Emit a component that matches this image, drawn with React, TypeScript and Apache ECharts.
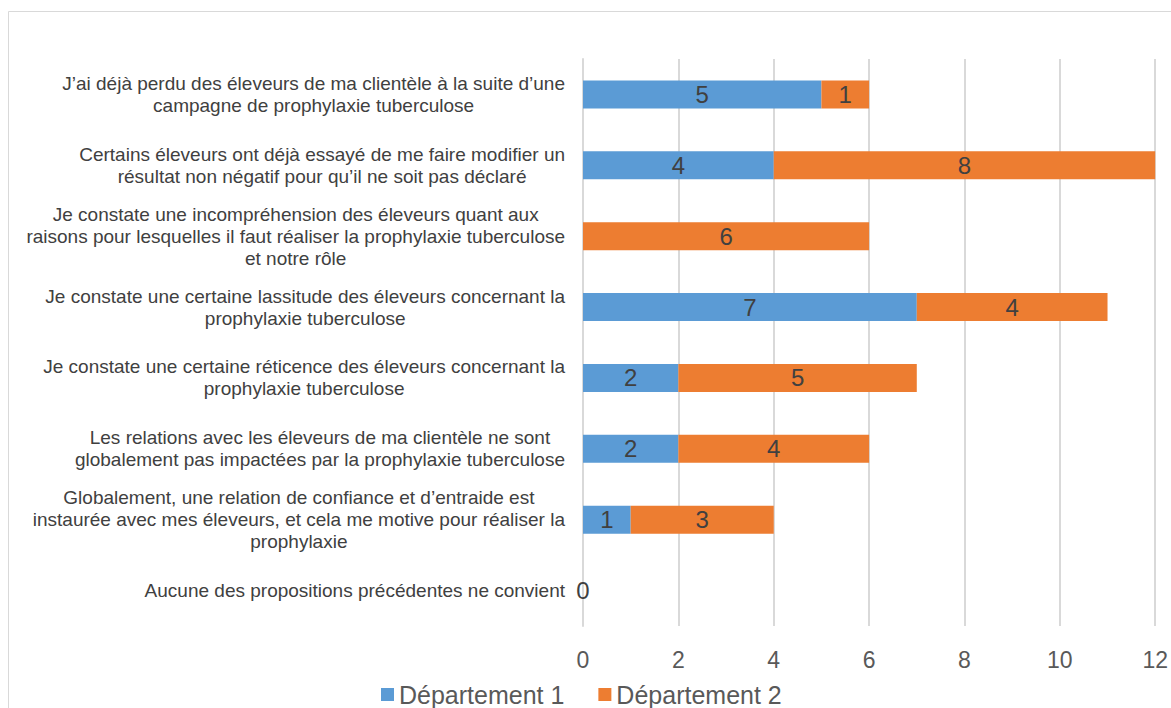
import React, { useEffect, useRef } from "react";
import * as echarts from "echarts";

const categories = [
  "J’ai déjà perdu des éleveurs de ma clientèle à la suite d’une\ncampagne de prophylaxie tuberculose",
  "Certains éleveurs ont déjà essayé de me faire modifier un\nrésultat non négatif pour qu’il ne soit pas déclaré",
  "Je constate une incompréhension des éleveurs quant aux\nraisons pour lesquelles il faut réaliser la prophylaxie tuberculose\net notre rôle",
  "Je constate une certaine lassitude des éleveurs concernant la\nprophylaxie tuberculose",
  "Je constate une certaine réticence des éleveurs concernant la\nprophylaxie tuberculose",
  "Les relations avec les éleveurs de ma clientèle ne sont\nglobalement pas impactées par la prophylaxie tuberculose",
  "Globalement, une relation de confiance et d’entraide est\ninstaurée avec mes éleveurs, et cela me motive pour réaliser la\nprophylaxie",
  "Aucune des propositions précédentes ne convient",
];
const dept1: (number | null)[] = [5, 4, null, 7, 2, 2, 1, 0];
const dept2: (number | null)[] = [1, 8, 6, 4, 5, 4, 3, null];
const seriesNames = ["Département 1", "Département 2"];
const xTicks = { min: 0, max: 12, interval: 2 };

export default function App() {
  const ref = useRef<HTMLDivElement>(null);
  useEffect(() => {
    document.body.style.margin = "0";
    const chart = echarts.init(ref.current!, null, { renderer: "svg" });
    const font = "'Liberation Sans', Arial, sans-serif";
    const labelStyle = {
      show: true,
      position: "inside",
      color: "#404040",
      fontSize: 24,
      fontFamily: font,
      formatter: (p: any) => (p.value === null || p.value === undefined ? "" : String(p.value)),
    };
    chart.setOption({
      animation: false,
      backgroundColor: "#ffffff",
      graphic: [
        {
          type: "rect",
          shape: { x: 8.5, y: 11.5, width: 1300, height: 900 },
          style: { fill: "none", stroke: "#d9d9d9", lineWidth: 1 },
          silent: true,
          z: -10,
        },
      ],
      grid: { left: 583, right: 15, top: 59, bottom: 82, containLabel: false },
      legend: {
        data: seriesNames,
        left: 376,
        top: 677,
        itemWidth: 13,
        itemHeight: 13,
        itemGap: 34,
        icon: "rect",
        textStyle: { fontSize: 25, color: "#595959", fontFamily: font },
      },
      xAxis: {
        type: "value",
        min: xTicks.min,
        max: xTicks.max,
        interval: xTicks.interval,
        axisLine: { show: false },
        axisTick: { show: false },
        splitLine: { show: true, lineStyle: { color: "#d9d9d9", width: 2 } },
        axisLabel: { color: "#595959", fontSize: 23, fontFamily: font, margin: 22 },
      },
      yAxis: {
        type: "category",
        data: categories,
        inverse: true,
        axisLine: { show: true, lineStyle: { color: "#d9d9d9", width: 2 } },
        axisTick: { show: false },
        axisLabel: {
          margin: 18,
          color: "#404040",
          fontSize: 19,
          fontFamily: font,
          lineHeight: 22,
          align: "right",
          formatter: (v: string) => v.split("\n").map((l) => `{c|${l}}`).join("\n"),
          rich: {
            c: { align: "center", fontSize: 19, lineHeight: 22, color: "#404040", fontFamily: font },
          },
        },
      },
      series: [
        {
          name: seriesNames[0],
          type: "bar",
          stack: "total",
          barWidth: 28,
          data: dept1,
          itemStyle: { color: "#5b9bd5" },
          label: labelStyle,
        },
        {
          name: seriesNames[1],
          type: "bar",
          stack: "total",
          barWidth: 28,
          data: dept2,
          itemStyle: { color: "#ed7d31" },
          label: labelStyle,
        },
      ],
    });
    return () => chart.dispose();
  }, []);
  return <div ref={ref} style={{ width: 1171, height: 708 }} />;
}
